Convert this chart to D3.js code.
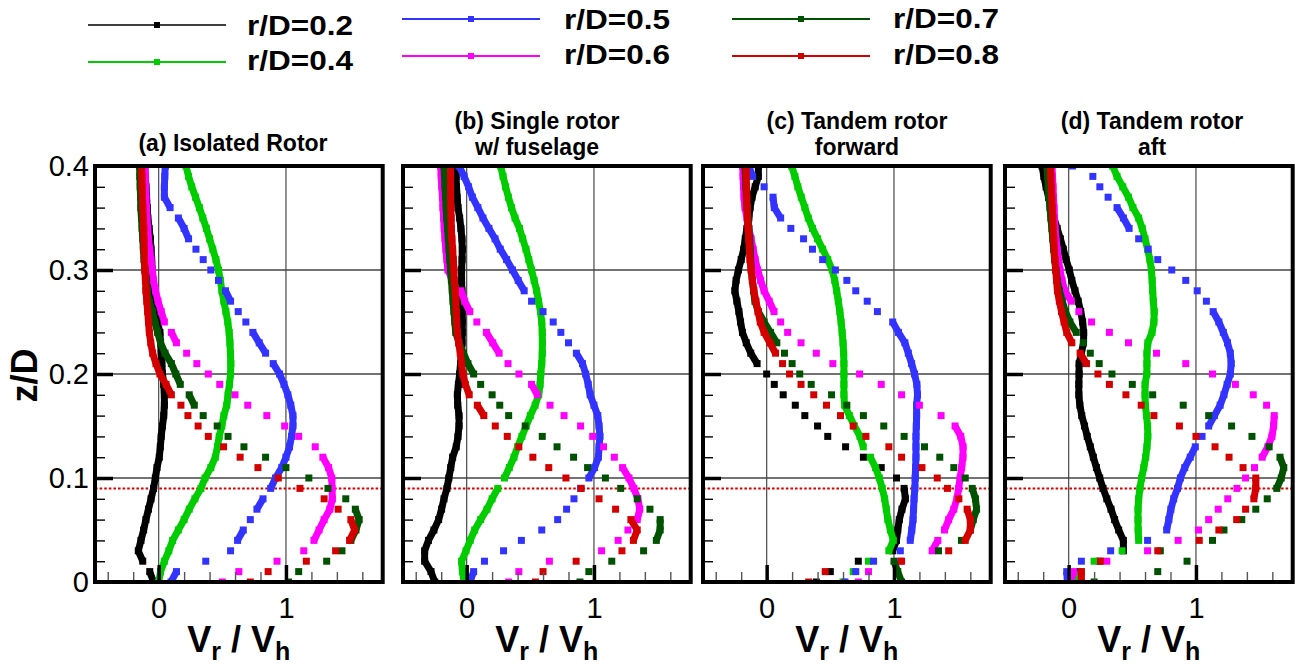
<!DOCTYPE html>
<html><head><meta charset="utf-8">
<script src="https://cdn.jsdelivr.net/npm/d3@7"></script>
<style>body{margin:0;background:#fff}svg{display:block}text{white-space:pre}</style>
</head><body>
<svg id="chart" width="1296" height="664"></svg>
<script>
// ---------- data ----------
const zValues = [0.40,0.39,0.38,0.37,0.36,0.35,0.34,0.33,0.32,0.31,
  0.30,0.29,0.28,0.27,0.26,0.25,0.24,0.23,0.22,0.21,
  0.20,0.19,0.18,0.17,0.16,0.15,0.14,0.13,0.12,0.11,
  0.10,0.09,0.08,0.07,0.06,0.05,0.04,0.03,0.02,0.01,0.00];
const seriesNames = ["r/D=0.2","r/D=0.4","r/D=0.5","r/D=0.6","r/D=0.7","r/D=0.8"];
const seriesColors = ["#000000","#00cc00","#3333ff","#ff00ff","#005200","#d40000"];
const panelTitles = [["(a) Isolated Rotor"],["(b) Single rotor","w/ fuselage"],["(c) Tandem rotor","forward"],["(d) Tandem rotor","aft"]];
const xTickLabels = [0,1];
const yTickLabels = [0,0.1,0.2,0.3,0.4];
const groundLineZ = 0.09;

// (a) Isolated rotor
const aR02 = [-0.11,-0.105,-0.1,-0.095,-0.09,-0.085,-0.075,-0.065,-0.06,-0.055,
  -0.05,-0.045,-0.035,-0.03,-0.02,-0.01,0.01,0.015,0.02,0.025,
  0.03,0.04,0.045,0.045,0.04,0.03,0.02,0.013,0.005,-0.013,
  -0.026,-0.04,-0.06,-0.08,-0.1,-0.118,-0.139,-0.16,-0.125,-0.07,
  -0.04];
const aR04 = [0.215,0.235,0.26,0.29,0.32,0.347,0.375,0.4,0.425,0.45,
  0.47,0.485,0.497,0.512,0.528,0.543,0.554,0.56,0.564,0.567,
  0.565,0.556,0.545,0.535,0.512,0.496,0.476,0.462,0.445,0.41,
  0.364,0.332,0.285,0.24,0.2,0.155,0.11,0.08,0.045,0.015,
  0.0];
const aR05 = [0.052,0.048,0.045,0.045,0.09,0.155,0.2,0.235,0.293,0.35,
  0.41,0.47,0.525,0.565,0.625,0.685,0.74,0.79,0.84,0.9,
  0.95,0.985,1.015,1.038,1.055,1.055,1.044,1.028,1.0,0.967,
  0.918,0.88,0.82,0.772,0.72,0.665,0.62,0.565,0.37,0.14,
  0.097];
const aR06 = [-0.107,-0.105,-0.103,-0.1,-0.096,-0.092,-0.086,-0.08,-0.07,-0.06,
  -0.05,-0.04,-0.025,-0.005,0.02,0.045,0.1,0.14,0.22,0.3,
  0.39,0.48,0.6,0.7,0.85,0.99,1.1,1.23,1.29,1.335,
  1.36,1.362,1.365,1.345,1.3,1.26,1.22,1.14,0.93,0.63,
  0.5];
const aR07 = [-0.15,-0.148,-0.145,-0.142,-0.14,-0.135,-0.13,-0.125,-0.12,-0.115,
  -0.108,-0.1,-0.09,-0.075,-0.05,-0.03,-0.008,0.015,0.05,0.1,
  0.135,0.17,0.24,0.28,0.35,0.46,0.545,0.67,0.84,1.0,
  1.18,1.33,1.47,1.545,1.575,1.55,1.51,1.44,1.32,1.1,
  1.02];
const aR08 = [-0.134,-0.132,-0.13,-0.127,-0.124,-0.12,-0.117,-0.115,-0.113,-0.111,
  -0.108,-0.104,-0.1,-0.093,-0.086,-0.08,-0.073,-0.062,-0.047,-0.021,
  0.01,0.058,0.1,0.175,0.23,0.31,0.39,0.51,0.64,0.78,
  0.94,1.11,1.3,1.41,1.51,1.54,1.5,1.39,1.16,0.86,
  0.72];

// (b) Single rotor w/ fuselage
const bR02 = [-0.086,-0.083,-0.08,-0.075,-0.068,-0.055,-0.045,-0.037,-0.034,-0.036,
  -0.04,-0.04,-0.037,-0.034,-0.034,-0.034,-0.034,-0.036,-0.04,-0.048,
  -0.055,-0.065,-0.073,-0.07,-0.06,-0.06,-0.068,-0.082,-0.11,-0.125,
  -0.14,-0.155,-0.178,-0.197,-0.22,-0.257,-0.3,-0.33,-0.33,-0.28,
  -0.25];
const bR04 = [0.267,0.286,0.306,0.328,0.352,0.38,0.415,0.44,0.466,0.488,
  0.51,0.53,0.55,0.565,0.58,0.59,0.594,0.595,0.594,0.59,
  0.582,0.577,0.566,0.538,0.5,0.468,0.434,0.4,0.372,0.335,
  0.297,0.245,0.2,0.16,0.11,0.063,0.028,-0.005,-0.04,-0.033,
  -0.02];
const bR05 = [-0.06,-0.02,0.015,0.045,0.088,0.128,0.175,0.223,0.264,0.314,
  0.36,0.405,0.452,0.51,0.6,0.68,0.74,0.8,0.862,0.91,
  0.935,0.955,0.97,1.0,1.03,1.04,1.047,1.04,1.035,1.005,
  0.96,0.895,0.843,0.785,0.715,0.59,0.43,0.29,0.14,0.055,
  0.026];
const bR06 = [-0.204,-0.2,-0.195,-0.19,-0.186,-0.181,-0.176,-0.17,-0.163,-0.155,
  -0.147,-0.113,-0.045,-0.015,0.025,0.08,0.155,0.205,0.255,0.325,
  0.411,0.51,0.555,0.655,0.765,0.895,0.99,1.075,1.16,1.225,
  1.275,1.314,1.345,1.36,1.34,1.267,1.19,1.06,0.65,0.41,
  0.33];
const bR07 = [-0.178,-0.174,-0.17,-0.166,-0.161,-0.156,-0.15,-0.144,-0.138,-0.132,
  -0.126,-0.12,-0.113,-0.107,-0.1,-0.093,-0.086,-0.06,-0.025,0.01,
  0.055,0.11,0.2,0.26,0.33,0.46,0.594,0.71,0.84,0.95,
  1.09,1.21,1.34,1.44,1.52,1.52,1.49,1.39,1.14,0.96,
  0.89];
const bR08 = [-0.126,-0.126,-0.126,-0.126,-0.124,-0.122,-0.12,-0.116,-0.11,-0.105,
  -0.1,-0.097,-0.09,-0.086,-0.082,-0.078,-0.073,-0.063,-0.05,-0.04,
  -0.03,-0.01,0.02,0.084,0.135,0.225,0.319,0.41,0.52,0.645,
  0.78,0.9,1.04,1.17,1.29,1.34,1.31,1.22,0.86,0.6,
  0.54];

// (c) Tandem rotor forward
const cR02 = [-0.065,-0.065,-0.09,-0.115,-0.13,-0.14,-0.155,-0.168,-0.18,-0.2,
  -0.222,-0.24,-0.25,-0.234,-0.218,-0.205,-0.19,-0.16,-0.125,-0.075,
  0.0,0.06,0.13,0.225,0.3,0.4,0.48,0.62,0.76,0.9,
  1.02,1.08,1.09,1.063,1.042,1.03,1.02,0.99,0.72,0.5,
  0.39];
const cR04 = [0.196,0.222,0.245,0.272,0.3,0.327,0.36,0.4,0.44,0.48,
  0.515,0.535,0.55,0.563,0.575,0.585,0.593,0.6,0.605,0.607,
  0.607,0.607,0.607,0.612,0.65,0.69,0.733,0.759,0.815,0.855,
  0.885,0.908,0.927,0.94,0.952,0.972,0.995,0.96,0.8,0.68,
  0.6];
const cR05 = [-0.14,-0.11,-0.02,0.05,0.06,0.11,0.19,0.29,0.36,0.44,
  0.54,0.63,0.7,0.79,0.87,0.99,1.035,1.086,1.113,1.139,
  1.162,1.18,1.185,1.178,1.178,1.176,1.173,1.173,1.173,1.17,
  1.167,1.164,1.158,1.154,1.15,1.14,1.128,1.05,0.84,0.7,
  0.615];
const cR06 = [-0.188,-0.185,-0.182,-0.178,-0.17,-0.155,-0.14,-0.122,-0.106,-0.09,
  -0.07,-0.047,-0.02,0.02,0.058,0.11,0.165,0.27,0.39,0.52,
  0.73,0.9,1.06,1.2,1.37,1.48,1.525,1.543,1.542,1.532,
  1.52,1.508,1.495,1.47,1.43,1.397,1.345,1.3,1.05,0.8,
  0.72];
const cR07 = [-0.17,-0.166,-0.162,-0.159,-0.154,-0.147,-0.14,-0.134,-0.13,-0.126,
  -0.12,-0.112,-0.103,-0.092,-0.065,-0.02,0.03,0.08,0.14,0.2,
  0.26,0.35,0.51,0.63,0.76,0.92,1.08,1.24,1.36,1.47,
  1.56,1.615,1.64,1.649,1.623,1.6,1.53,1.35,1.0,1.03,
  1.06];
const cR08 = [-0.162,-0.16,-0.158,-0.156,-0.153,-0.15,-0.146,-0.141,-0.136,-0.131,
  -0.122,-0.112,-0.1,-0.084,-0.068,-0.05,-0.02,0.025,0.07,0.125,
  0.18,0.27,0.37,0.47,0.58,0.68,0.78,0.96,1.06,1.22,
  1.34,1.42,1.51,1.575,1.6,1.6,1.56,1.43,1.06,0.46,
  0.33];

// (d) Tandem rotor aft
const dR02 = [-0.209,-0.195,-0.177,-0.158,-0.14,-0.115,-0.09,-0.065,-0.042,-0.02,
  0.005,0.025,0.05,0.075,0.095,0.11,0.118,0.117,0.1,0.082,
  0.082,0.08,0.08,0.088,0.103,0.125,0.146,0.17,0.194,0.218,
  0.244,0.27,0.3,0.333,0.361,0.393,0.43,0.43,0.24,0.09,
  0.04];
const dR04 = [0.346,0.38,0.425,0.47,0.505,0.55,0.578,0.6,0.62,0.638,
  0.65,0.656,0.66,0.665,0.672,0.67,0.655,0.622,0.615,0.615,
  0.614,0.6,0.6,0.602,0.612,0.62,0.622,0.615,0.605,0.59,
  0.573,0.56,0.55,0.545,0.545,0.546,0.55,0.42,0.2,0.1,
  0.05];
const dR05 = [0.031,0.19,0.245,0.31,0.38,0.43,0.475,0.55,0.625,0.7,
  0.81,0.92,1.01,1.082,1.135,1.18,1.215,1.248,1.27,1.277,
  1.27,1.245,1.22,1.19,1.145,1.1,1.048,0.995,0.955,0.912,
  0.878,0.855,0.825,0.803,0.787,0.77,0.62,0.33,0.1,-0.015,
  -0.01];
const dR06 = [-0.131,-0.127,-0.123,-0.119,-0.115,-0.111,-0.107,-0.1,-0.09,-0.08,
  -0.068,-0.052,-0.03,0.02,0.08,0.18,0.32,0.47,0.69,0.92,
  1.13,1.31,1.45,1.555,1.615,1.61,1.597,1.565,1.52,1.46,
  1.39,1.322,1.25,1.175,1.1,1.02,0.86,0.62,0.3,0.04,
  0.013];
const dR07 = [-0.17,-0.165,-0.16,-0.155,-0.147,-0.14,-0.132,-0.125,-0.118,-0.11,
  -0.1,-0.09,-0.072,-0.05,-0.025,0.01,0.06,0.115,0.17,0.24,
  0.34,0.5,0.66,0.9,1.1,1.28,1.44,1.575,1.66,1.69,
  1.67,1.635,1.56,1.47,1.36,1.22,1.13,0.72,0.93,0.7,
  0.2];
const dR08 = [-0.144,-0.14,-0.136,-0.133,-0.129,-0.125,-0.121,-0.117,-0.113,-0.107,
  -0.102,-0.095,-0.088,-0.073,-0.056,-0.036,-0.015,0.025,0.09,0.14,
  0.23,0.32,0.45,0.57,0.67,0.87,1.0,1.15,1.26,1.37,
  1.47,1.47,1.455,1.39,1.32,1.18,1.026,0.7,0.25,0.1,
  0.1];

const panelSeries = [
  [aR02,aR04,aR05,aR06,aR07,aR08],
  [bR02,bR04,bR05,bR06,bR07,bR08],
  [cR02,cR04,cR05,cR06,cR07,cR08],
  [dR02,dR04,dR05,dR06,dR07,dR08]
];

// ---------- layout ----------
const FONT = "'Liberation Sans', Arial, Helvetica, sans-serif";
const svg = d3.select("#chart").style("font-family", FONT);
const panelLeft = [95, 403, 703, 1005];
const plotW = 287.7, plotTop = 166, plotBottom = 582;
const titleCX = [233, 537, 857, 1152];
const MARK = 7;           // square marker size (px)
const JOIN_MAX = 12.3;    // nearly-vertical runs of markers visually merge
const y = d3.scaleLinear().domain([0, 0.4]).range([plotBottom, plotTop]);
const xMinor = [-0.4,-0.2,0.2,0.4,0.6,0.8,1.2,1.4,1.6];
const yMinor = [0.02,0.04,0.06,0.08,0.12,0.14,0.16,0.18,0.22,0.24,0.26,0.28,0.32,0.34,0.36,0.38];
const defs = svg.append("defs");

panelSeries.forEach((series, i) => {
  const L = panelLeft[i];
  const x = d3.scaleLinear().domain([-0.5, 1.76]).range([L, L + plotW]);
  const g = svg.append("g");
  defs.append("clipPath").attr("id", "clip" + i).append("rect")
    .attr("x", L).attr("y", plotTop).attr("width", plotW).attr("height", plotBottom - plotTop);

  // grid
  g.selectAll("line.vg").data(xTickLabels).join("line").attr("class","vg")
    .attr("x1", d => x(d)).attr("x2", d => x(d)).attr("y1", plotTop).attr("y2", plotBottom)
    .attr("stroke", "#555").attr("stroke-width", 1.3);
  g.selectAll("line.hg").data([0.1,0.2,0.3]).join("line").attr("class","hg")
    .attr("x1", L).attr("x2", L + plotW).attr("y1", d => y(d)).attr("y2", d => y(d))
    .attr("stroke", "#444").attr("stroke-width", 1.3);
  // ground reference dotted
  g.append("line").attr("x1", L).attr("x2", L + plotW)
    .attr("y1", y(groundLineZ)).attr("y2", y(groundLineZ))
    .attr("stroke", "#e00000").attr("stroke-width", 2).attr("stroke-dasharray", "2.6,2");

  // data squares
  const dg = g.append("g").attr("clip-path", `url(#clip${i})`);
  series.forEach((vals, k) => {
    const pts = vals.map((v, j) => [x(v), y(zValues[j])]);
    const joins = d3.pairs(pts).filter(([a, b]) => Math.hypot(a[0]-b[0], a[1]-b[1]) < JOIN_MAX);
    const sg = dg.append("g");
    sg.selectAll("line").data(joins).join("line")
      .attr("x1", d => d[0][0]).attr("y1", d => d[0][1]).attr("x2", d => d[1][0]).attr("y2", d => d[1][1])
      .attr("stroke", seriesColors[k]).attr("stroke-width", MARK);
    sg.selectAll("rect").data(pts).join("rect")
      .attr("x", d => d[0] - MARK/2).attr("y", d => d[1] - MARK/2)
      .attr("width", MARK).attr("height", MARK).attr("fill", seriesColors[k]);
  });

  // ticks (inside)
  const yMinorAxis = d3.axisRight(y).tickValues(yMinor).tickSize(10).tickFormat("");
  const yMajorAxis = d3.axisRight(y).tickValues([0.1,0.2,0.3]).tickSize(18).tickFormat("");
  const gy1 = g.append("g").attr("transform", `translate(${L},0)`).call(yMinorAxis);
  gy1.select(".domain").remove(); gy1.selectAll("line").attr("stroke", "#000").attr("stroke-width", 1.4);
  const gy2 = g.append("g").attr("transform", `translate(${L},0)`).call(yMajorAxis);
  gy2.select(".domain").remove(); gy2.selectAll("line").attr("stroke", "#000").attr("stroke-width", 3.5);
  const xMinorAxis = d3.axisTop(x).tickValues(xMinor).tickSize(10).tickFormat("");
  const xMajorAxis = d3.axisTop(x).tickValues(xTickLabels).tickSize(17).tickFormat("");
  const gx1 = g.append("g").attr("transform", `translate(0,${plotBottom})`).call(xMinorAxis);
  gx1.select(".domain").remove(); gx1.selectAll("line").attr("stroke", "#555").attr("stroke-width", 1.4);
  const gx2 = g.append("g").attr("transform", `translate(0,${plotBottom})`).call(xMajorAxis);
  gx2.select(".domain").remove(); gx2.selectAll("line").attr("stroke", "#000").attr("stroke-width", 3.5);

  // frame
  g.append("rect").attr("x", L).attr("y", plotTop).attr("width", plotW).attr("height", plotBottom - plotTop)
    .attr("fill", "none").attr("stroke", "#000").attr("stroke-width", 4);

  // x tick labels
  const gxl = g.append("g").attr("transform", `translate(0,${plotBottom})`)
    .call(d3.axisBottom(x).tickValues(xTickLabels).tickSize(0).tickPadding(15).tickFormat(d3.format("d")));
  gxl.select(".domain").remove();
  gxl.selectAll("text").attr("font-size", 29).attr("font-family", FONT).attr("fill", "#000");

  // y tick labels only on first panel
  if (i === 0) {
    const gyl = g.append("g").attr("transform", `translate(${L},0)`)
      .call(d3.axisLeft(y).tickValues(yTickLabels).tickSize(0).tickPadding(6)
        .tickFormat(d => d === 0 ? "0" : d3.format(".1f")(d)));
    gyl.select(".domain").remove();
    gyl.selectAll("text").attr("font-size", 29).attr("font-family", FONT).attr("fill", "#000");
  }

  // title (one text element, lines as tspans)
  const lines = panelTitles[i];
  const tt = g.append("text").attr("x", titleCX[i]).attr("y", lines.length === 1 ? 151 : 129)
    .attr("text-anchor", "middle").attr("font-size", 23).attr("font-weight", "bold");
  lines.forEach((t, li) => {
    tt.append("tspan").attr("x", titleCX[i]).attr("dy", li === 0 ? 0 : 26).text(t);
  });

  // x axis title
  const xt = g.append("text").attr("x", L + plotW / 2).attr("y", 652).attr("text-anchor", "middle")
    .attr("font-size", 36).attr("font-weight", "bold");
  xt.append("tspan").text("V");
  xt.append("tspan").attr("font-size", 25).attr("dy", 8).text("r");
  xt.append("tspan").attr("dy", -8).text(" / V");
  xt.append("tspan").attr("font-size", 25).attr("dy", 8).text("h");
});

// y axis title
svg.append("text").attr("transform", "translate(37,375.5) rotate(-90)").attr("text-anchor", "middle")
  .attr("font-size", 36).attr("font-weight", "bold").text("z/D");

// legend
const legendX = [88, 402, 732];
const legendTextX = [247, 564, 893];
const legendCol = [0, 0, 1, 1, 2, 2];
const legendLineY = [25, 62, 19, 56, 19, 56];
const legendTextY = [35, 70, 29, 64, 28, 64];
seriesNames.forEach((name, k) => {
  const c = legendCol[k];
  const lg = svg.append("g");
  lg.append("line").attr("x1", legendX[c]).attr("x2", legendX[c] + 138)
    .attr("y1", legendLineY[k]).attr("y2", legendLineY[k])
    .attr("stroke", seriesColors[k]).attr("stroke-width", k === 0 ? 1.5 : 2);
  lg.append("rect").attr("x", legendX[c] + 69 - 3).attr("y", legendLineY[k] - 3)
    .attr("width", 6).attr("height", 6).attr("fill", seriesColors[k]);
  lg.append("text").attr("x", legendTextX[c]).attr("y", legendTextY[k])
    .attr("font-size", 28).attr("font-weight", "bold")
    .attr("textLength", 106).attr("lengthAdjust", "spacingAndGlyphs").text(name);
});
</script>
</body></html>
